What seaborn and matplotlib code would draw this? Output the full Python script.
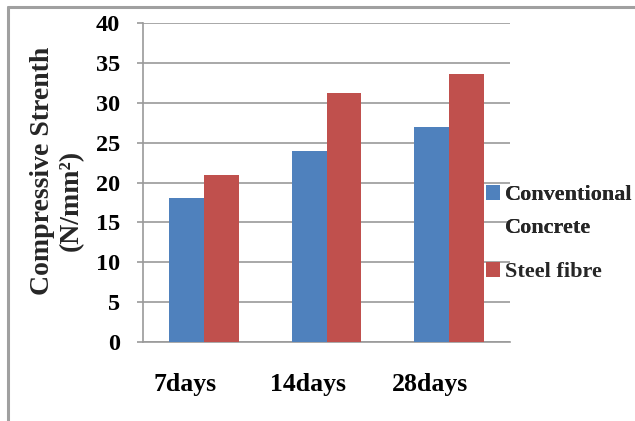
import matplotlib
matplotlib.use("Agg")
import matplotlib.pyplot as plt
import matplotlib.transforms as mtransforms
from matplotlib.lines import Line2D
from matplotlib.patches import Patch
import pandas as pd
import seaborn as sns

# Compressive strength at each curing age
ages = ["7days", "14days", "28days"]
conventional = [18.0, 24.0, 27.0]
steel_fibre = [21.0, 31.2, 33.6]
series_names = ["Conventional Concrete", "Steel fibre"]
y_ticks = [0, 5, 10, 15, 20, 25, 30, 35, 40]

df = pd.DataFrame({
    "age": ages * 2,
    "strength": conventional + steel_fibre,
    "mix": [series_names[0]] * len(ages) + [series_names[1]] * len(ages),
})

sns.set_theme(style="white")
plt.rcParams["font.family"] = ["Liberation Serif", "DejaVu Serif"]
plt.rcParams["font.weight"] = "bold"

colors = ["#4F81BD", "#C0504D"]
grid_c = "#9a9a9a"

fig = plt.figure(figsize=(6.35, 4.21), dpi=100)
ax = fig.add_axes([143 / 635, 1 - 342 / 421, (510 - 143) / 635, (342 - 23) / 421])

sns.barplot(data=df, x="age", y="strength", hue="mix", order=ages,
            hue_order=series_names, palette=colors, saturation=1,
            width=0.57, gap=0, ax=ax, legend=False, errorbar=None,
            edgecolor="none", linewidth=0, zorder=3)

ax.set_xlim(-0.5, len(ages) - 0.5)
ax.set_ylim(0, 40)
ax.set_yticks(y_ticks)
ax.set_yticklabels([str(t) for t in y_ticks], fontsize=17.5, fontweight="bold")
ax.yaxis.grid(True, color=grid_c, linewidth=1.2, zorder=0)
ax.set_axisbelow(True)
ax.tick_params(axis="y", which="major", length=4.5, width=1.2, color=grid_c,
               pad=12, left=True, labelcolor="black")
ax.tick_params(axis="x", length=0, pad=22, labelsize=18.5, labelcolor="black")
for lab in ax.get_xticklabels():
    lab.set_fontweight("bold")
    lab.set_transform(lab.get_transform() +
                      mtransforms.ScaledTranslation(-19 / 100, 0, fig.dpi_scale_trans))
ax.set_xlabel("")
ax.set_ylabel("")

for side in ["top", "right"]:
    ax.spines[side].set_visible(False)
for side in ["left", "bottom"]:
    ax.spines[side].set_color(grid_c)
    ax.spines[side].set_linewidth(1.2)

# Two-line axis title
fig.text(43 / 635, 1 - 171 / 421, "Compressive Strenth", rotation=90,
         ha="center", va="center", fontsize=20, fontweight="bold")
fig.text(71 / 635, 1 - 200 / 421, "(N/mm²)", rotation=90,
         ha="center", va="center", fontsize=20, fontweight="bold")

# Legend: the first entry wraps onto a second line
legend_font = {"weight": "bold", "size": 16}
conv_handles = [Patch(facecolor=colors[0], edgecolor="none"),
                Patch(facecolor="none", edgecolor="none")]
leg1 = fig.legend(conv_handles, series_names[0].split(" "), loc="center left",
                  bbox_to_anchor=(486 / 635, 1 - 211.5 / 421), frameon=False,
                  prop=legend_font, handlelength=0.65, handleheight=0.65,
                  handletextpad=0.22, labelspacing=0.55, borderaxespad=0,
                  borderpad=0)
fig.add_artist(leg1)
fig.legend([Patch(facecolor=colors[1], edgecolor="none")], [series_names[1]],
           loc="center left", bbox_to_anchor=(486 / 635, 1 - 272 / 421),
           frameon=False, prop=legend_font, handlelength=0.65,
           handleheight=0.65, handletextpad=0.22, borderaxespad=0, borderpad=0)

# Outer frame (left and top edges)
fig.add_artist(Line2D([8 / 635, 8 / 635], [0, 1 - 7 / 421], transform=fig.transFigure,
                      color="#a0a0a0", linewidth=2.2))
fig.add_artist(Line2D([8 / 635, 1], [1 - 7 / 421, 1 - 7 / 421], transform=fig.transFigure,
                      color="#a0a0a0", linewidth=2.2))

fig.savefig("out.png", dpi=100, facecolor="white")
